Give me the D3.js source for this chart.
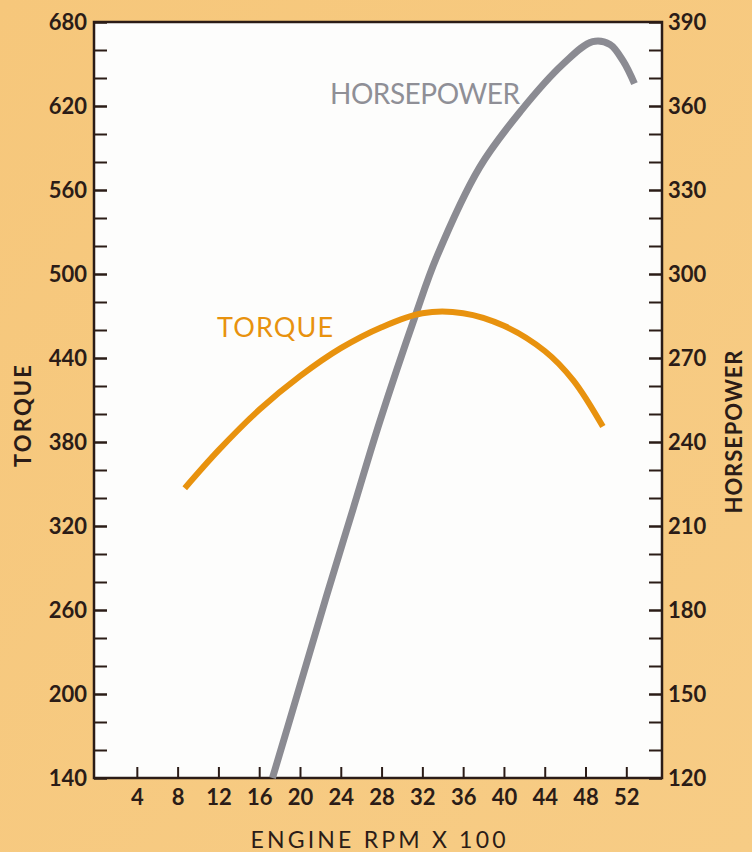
<!DOCTYPE html>
<html lang="en">
<head>
<meta charset="UTF-8">
<title>Torque and horsepower</title>
<style>
  html, body { margin: 0; padding: 0; background: #f5c67a; }
  svg { display: block; }
</style>
</head>
<body>
<script src="https://d3js.org/d3.v7.min.js"></script>
<script>
// engine speed is in hundreds of rpm
var torqueRpm = [8.7, 12, 16, 20, 24, 28, 32, 36, 40, 44, 46.8, 49.7];
var torqueVal = [347, 374, 403, 427, 447, 462, 472, 472, 463, 445, 424, 391];
var hpRpm = [17.3, 20.0, 22.6, 25.2, 27.8, 31.3, 33.4, 37.6, 41.6, 45.8, 48.7, 50.4, 51.7, 52.8];
var hpVal = [120, 153, 185, 216, 247, 285, 306, 338, 358, 375, 383, 382, 376, 368];

var rpmTicks = [4, 8, 12, 16, 20, 24, 28, 32, 36, 40, 44, 48, 52];
var torqueTicks = [140, 200, 260, 320, 380, 440, 500, 560, 620, 680];
var hpTicks = [120, 150, 180, 210, 240, 270, 300, 330, 360, 390];

var W = 752, H = 852;
var L = 94, R = 662, T = 22, B = 778;

var svg = d3.select("body").append("svg")
    .attr("width", W)
    .attr("height", H);

// paper background
var grad = svg.append("defs").append("linearGradient")
    .attr("id", "paper").attr("x1", 0).attr("y1", 0).attr("x2", 1).attr("y2", 1);
grad.append("stop").attr("offset", 0).attr("stop-color", "#f6c77b");
grad.append("stop").attr("offset", 1).attr("stop-color", "#f7cc85");
svg.append("rect").attr("width", W).attr("height", H).attr("fill", "url(#paper)");

svg.append("rect")
    .attr("x", L).attr("y", T)
    .attr("width", R - L).attr("height", B - T)
    .attr("fill", "#fdfdfc");

var x = d3.scaleLinear().domain([-0.2, 55.5]).range([L, R]);
var yT = d3.scaleLinear().domain([140, 680]).range([B, T]);
var yH = d3.scaleLinear().domain([120, 390]).range([B, T]);

var ink = "#2b1c17";
var tickFont = "Lato, 'Open Sans', sans-serif";

function styleAxis(g) {
  g.select(".domain").remove();
  g.selectAll(".tick line").attr("stroke", ink).attr("stroke-width", 2);
  g.selectAll(".tick text")
    .attr("fill", ink)
    .style("font-family", tickFont)
    .style("font-size", "22px")
    .style("font-weight", 700);
}

// minor ticks
svg.append("g").attr("transform", "translate(" + L + ",0)")
    .call(d3.axisLeft(yT).tickValues(d3.range(140, 681, 20)).tickSize(-13).tickFormat(""))
    .call(styleAxis);
svg.append("g").attr("transform", "translate(" + R + ",0)")
    .call(d3.axisRight(yH).tickValues(d3.range(120, 391, 10)).tickSize(-13).tickFormat(""))
    .call(styleAxis);

// labelled axes
svg.append("g").attr("transform", "translate(" + L + ",0)")
    .call(d3.axisLeft(yT).tickValues(torqueTicks).tickSize(-13).tickPadding(7))
    .call(styleAxis);
svg.append("g").attr("transform", "translate(" + R + ",0)")
    .call(d3.axisRight(yH).tickValues(hpTicks).tickSize(-13).tickPadding(6))
    .call(styleAxis);
svg.append("g").attr("transform", "translate(0," + B + ")")
    .call(d3.axisBottom(x).tickValues(rpmTicks).tickSize(-11).tickPadding(11))
    .call(styleAxis);

// frame
svg.append("rect")
    .attr("x", L).attr("y", T)
    .attr("width", R - L).attr("height", B - T)
    .attr("fill", "none")
    .attr("stroke", ink)
    .attr("stroke-width", 2.5);

// curves
var torqueLine = d3.line()
    .x(function(d, i) { return x(torqueRpm[i]); })
    .y(function(d) { return yT(d); })
    .curve(d3.curveCatmullRom);
var hpLine = d3.line()
    .x(function(d, i) { return x(hpRpm[i]); })
    .y(function(d) { return yH(d); })
    .curve(d3.curveCatmullRom);

svg.append("path")
    .attr("d", hpLine(hpVal))
    .attr("fill", "none")
    .attr("stroke", "#8b8b92")
    .attr("stroke-width", 7);

svg.append("path")
    .attr("d", torqueLine(torqueVal))
    .attr("fill", "none")
    .attr("stroke", "#e8920e")
    .attr("stroke-width", 6);

// labels in the plot
svg.append("text")
    .attr("x", 330).attr("y", 104)
    .attr("textLength", 190)
    .attr("fill", "#8f8f96")
    .style("font-family", tickFont)
    .style("font-size", "28px")
    .text("HORSEPOWER");

svg.append("text")
    .attr("x", 217).attr("y", 337)
    .attr("textLength", 116)
    .attr("fill", "#e8920e")
    .style("font-family", tickFont)
    .style("font-size", "27px")
    .text("TORQUE");

// axis titles
svg.append("text")
    .attr("x", (L + R) / 2).attr("y", 848)
    .attr("text-anchor", "middle")
    .attr("textLength", 255)
    .attr("fill", ink)
    .style("font-family", tickFont)
    .style("font-size", "23px")
    .text("ENGINE RPM X 100");

svg.append("text")
    .attr("transform", "translate(31,416) rotate(-90)")
    .attr("text-anchor", "middle")
    .attr("textLength", 102)
    .attr("fill", ink)
    .style("font-family", tickFont)
    .style("font-size", "22px")
    .style("font-weight", 700)
    .text("TORQUE");

svg.append("text")
    .attr("transform", "translate(742,432) rotate(-90)")
    .attr("text-anchor", "middle")
    .attr("textLength", 163)
    .attr("fill", ink)
    .style("font-family", tickFont)
    .style("font-size", "22px")
    .style("font-weight", 700)
    .text("HORSEPOWER");
</script>
</body>
</html>
